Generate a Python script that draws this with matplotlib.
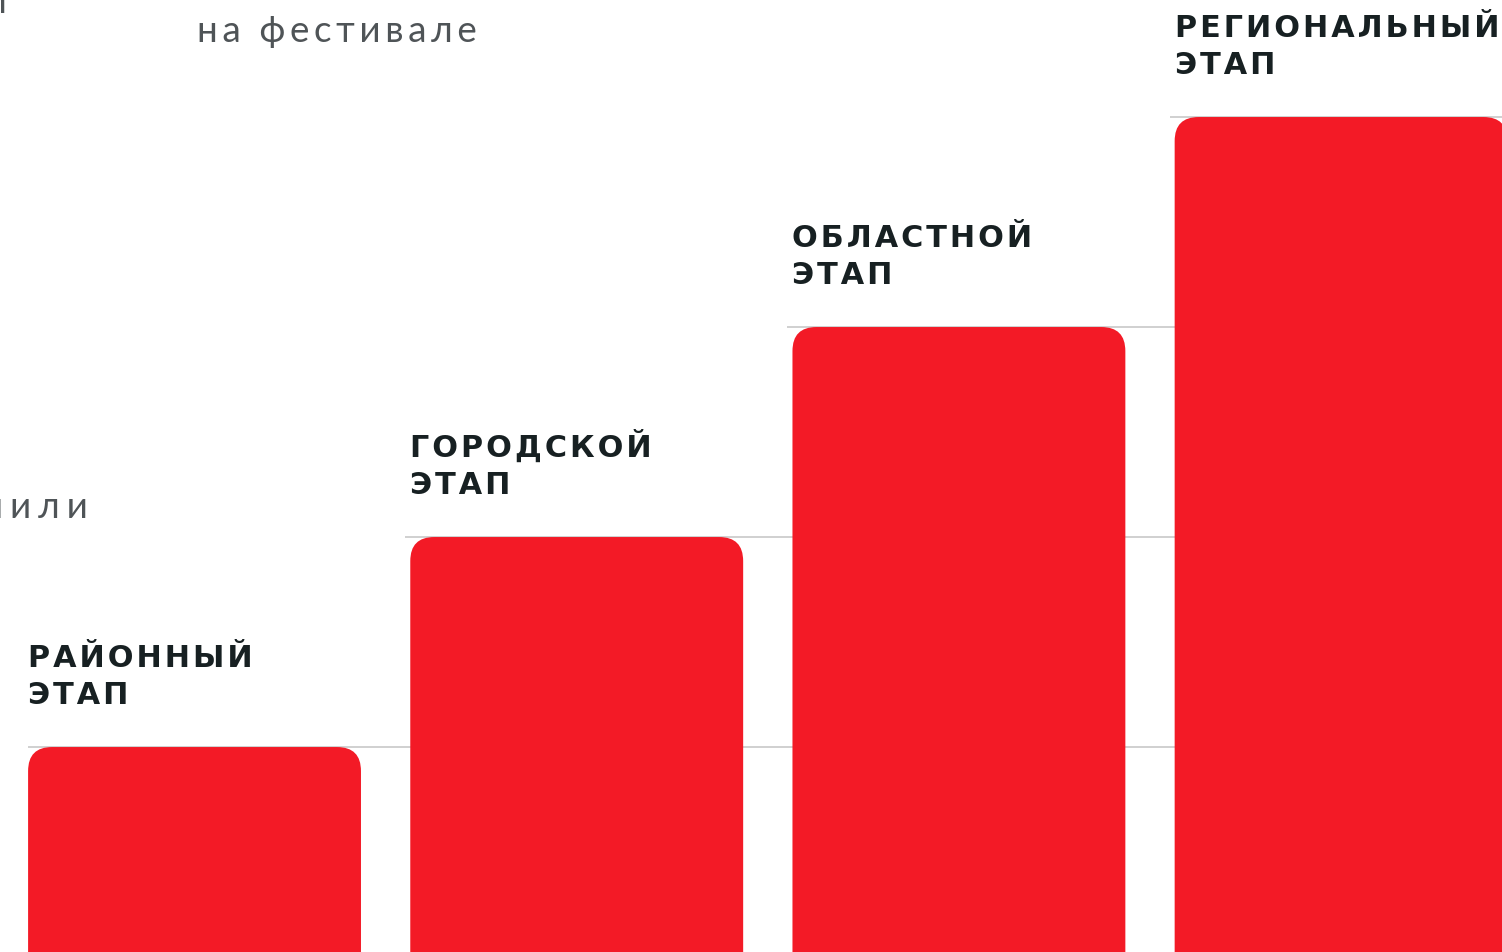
import matplotlib.pyplot as plt
from matplotlib.patches import FancyBboxPatch

# stages and their relative level (one step per stage)
stages = ["РАЙОННЫЙ\nЭТАП", "ГОРОДСКОЙ\nЭТАП", "ОБЛАСТНОЙ\nЭТАП", "РЕГИОНАЛЬНЫЙ\nЭТАП"]
levels = [1, 2, 3, 4]

BAR_RED = "#F31A26"
DARK = "#172022"
GREY = "#4f5457"
GRID = "#d0d0d0"

W, H = 1502, 953
fig = plt.figure(figsize=(W / 100, H / 100), dpi=100)
ax = fig.add_axes([0, 0, 1, 1])
ax.set_xlim(-0.509, 3.421)
ax.set_ylim(0.024, 4.562)
ax.axis("off")

width = 0.871
x_px = W / (3.421 + 0.509)
y_px = H / (4.562 - 0.024)
radius = 24 / x_px


def spaced(s, sep="\u200a"):
    return sep.join(s)


for i, (name, val) in enumerate(zip(stages, levels)):
    left = i - width / 2
    # thin rule at the bar top, running to the right edge
    ax.hlines(val, left - 5 / x_px * (i > 0), 3.421, color=GRID, lw=1.4, zorder=1)
    bar = FancyBboxPatch(
        (left, -1), width, val + 1,
        boxstyle=f"round,pad=0,rounding_size={radius}",
        mutation_aspect=x_px / y_px,
        fc=BAR_RED, ec="none", zorder=2,
    )
    ax.add_patch(bar)
    first, second = name.split("\n")
    for line, off in ((first, 81.5), (second, 44.5)):
        ax.annotate(
            spaced(line), xy=(left, val), xytext=(0, off * 0.72),
            textcoords="offset points", ha="left", va="baseline",
            fontsize=21.8, fontweight="bold", color=DARK,
            family=["DejaVu Sans"],
        )

# fragments of the surrounding text block
light = dict(color=GREY, fontsize=26.5, family=["Lato", "DejaVu Sans"], fontweight="normal")
fig.text(197 / W, 1 - 42 / H, spaced("на фестивале", "\u2009"), ha="left", va="baseline", **light)
fig.text(88 / W, 1 - 518 / H, spaced("решили", "\u2009\u200a"), ha="right", va="baseline", **light)
fig.text(7 / W, 1 - 13 / H, spaced("участники", "\u2009"), ha="right", va="baseline", **light)

fig.savefig("out.png", dpi=100, facecolor="white")
